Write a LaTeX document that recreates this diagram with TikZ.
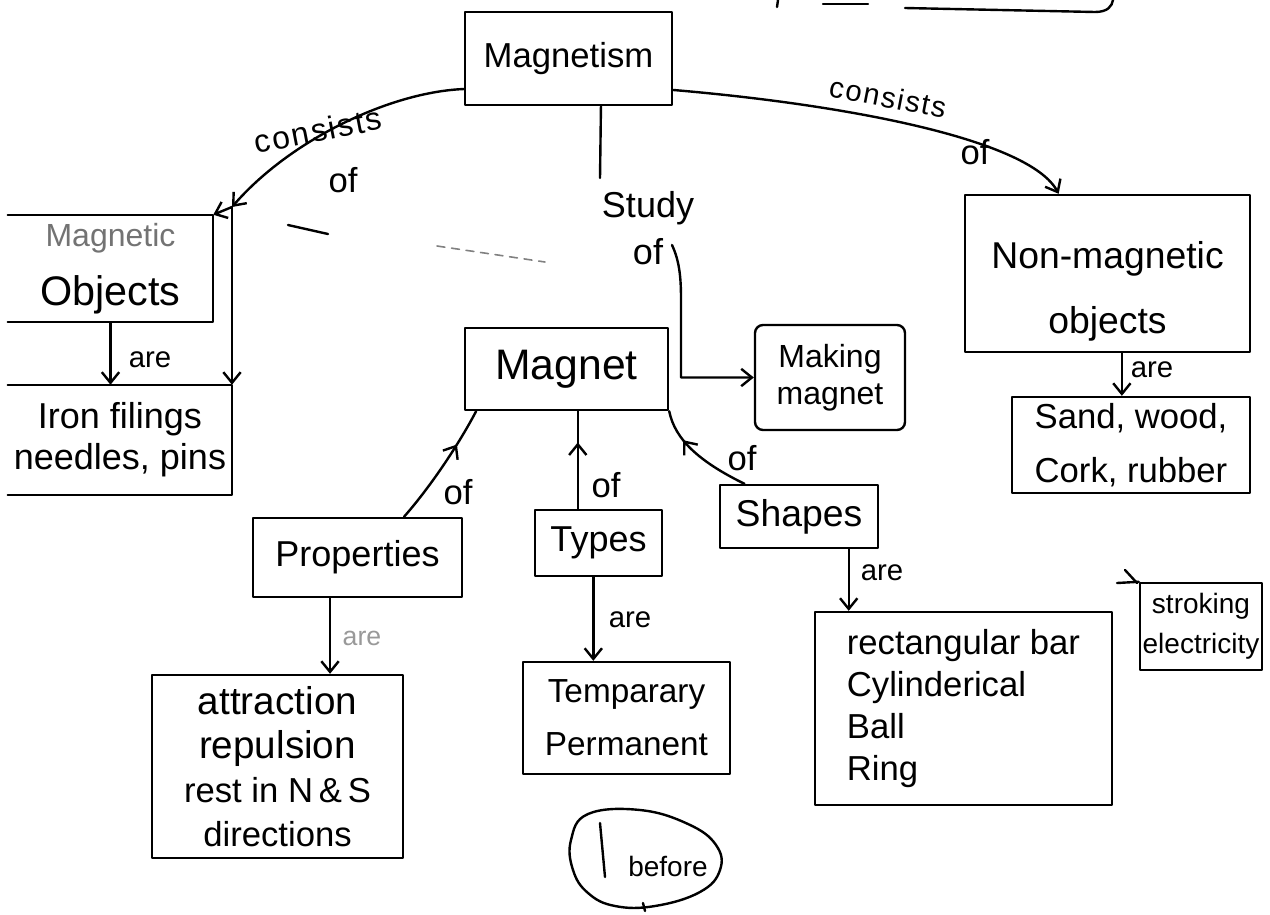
\documentclass[tikz,border=0pt]{standalone}
\usepackage{fontspec}
\setmainfont{Liberation Sans}
\usetikzlibrary{arrows.meta,calc,decorations.markings}
% text block of zero size, moved by #1 (used to lower text inside a box)
\newcommand{\lowered}[2]{\raisebox{#1}[0pt][0pt]{\begin{tabular}{@{}c@{}}#2\end{tabular}}}
\begin{document}
\begin{tikzpicture}[x=0.75pt,y=-0.75pt,
  ink/.style={line width=1.8pt, line cap=round, line join=round},
  bx/.style 2 args={draw, ink, minimum width=#1*0.75pt, minimum height=#2*0.75pt, inner sep=0pt, align=center},
  openbx/.style 2 args={minimum width=#1*0.75pt, minimum height=#2*0.75pt, inner sep=0pt, align=center},
  headend/.style={-{Straight Barb[length=8pt,width=13pt]}},
  midhead/.style={postaction={decorate}, decoration={markings, mark=at position #1 with {\arrow{Straight Barb[length=8pt,width=13pt]}}}},
  lbl/.style={inner sep=0pt},
  txt/.style 2 args={font=\fontsize{#1pt}{#2pt}\selectfont}
]
\useasboundingbox (0,0) rectangle (1270,914);

% ---------- concept boxes ----------
\node[bx={207}{93}, txt={26}{30}] (mag) at (568.5,58.5) {Magnetism};

\node[openbx={205}{107}] (magobj) at (110.5,268.5)
  {{\fontsize{24pt}{28pt}\selectfont\color{black!55}Magnetic}\\[16pt]{\fontsize{31pt}{36pt}\selectfont Objects}};
\draw[ink] (magobj.north west) -- (magobj.north east) -- (magobj.south east) -- (magobj.south west);

\node[openbx={224}{110}, txt={27}{31}] (iron) at (120,440) {Iron filings\\needles, pins};
\draw[ink] (iron.north west) -- (iron.north east) -- (iron.south east) -- (iron.south west);

\node[bx={285}{157}, txt={28}{49}] (nonmag) at (1107.5,273.5) {\lowered{-17pt}{Non-magnetic\\objects}};
\node[bx={238}{96}, txt={26}{40}] (sand) at (1131,445) {Sand, wood,\\Cork, rubber};

\node[bx={203}{82}, txt={32}{38}] (magnet) at (566.5,369) {Magnet};
\node[bx={150}{105}, rounded corners=6pt, txt={24}{28}] (making) at (830,377.5) {Making\\magnet};

\node[bx={209}{79}, txt={27}{32}] (props) at (357.5,557.5) {Properties};
\node[bx={127}{66}, txt={27}{32}] (types) at (598.5,543) {Types};
\node[bx={158}{63}, txt={28}{32}] (shapes) at (799,516.5) {Shapes};

\node[bx={251}{183}, txt={29}{33}] (attr) at (277.5,766.5)
  {attraction\\repulsion\\{\fontsize{26pt}{30pt}\selectfont rest in N\,\&\,S}\\{\fontsize{26pt}{28pt}\selectfont directions}};
\node[bx={207}{112}, txt={25}{40}] (temp) at (626.5,718) {Temparary\\Permanent};
\node[bx={297}{193}, txt={26}{31.5}, align=left] (rect) at (963.5,708.5)
  {rectangular bar\\Cylinderical\\Ball\\Ring};
\node[bx={122}{87}, txt={21}{30}] (strk) at (1201,626.5) {stroking\\electricity};

% ---------- the "before" note ----------
\node[lbl, txt={21}{25}] (bfr) at (668,866) {before};
\draw[ink] plot[smooth cycle, tension=0.7] coordinates
  {(588,814) (640,810) (688,824) (716,845) (720,870) (700,892) (655,906) (615,906) (588,893) (573,870) (571,840)};
\draw[ink] (600,823) -- (605,877);
\draw[ink] (643,903) -- (645,911);

% ---------- link labels ----------
\node[lbl, txt={24}{28}, rotate=11] (cons1) at (318,130) {\addfontfeature{LetterSpace=6}consists};
\node[lbl, txt={26}{30}] (cons1of) at (343,180) {of};
\node[lbl, txt={22}{26}, rotate=-11] (cons2) at (888,97) {\addfontfeature{LetterSpace=6}consists};
\node[lbl, txt={26}{30}] (cons2of) at (975,152) {of};
\node[lbl, txt={27}{35}, align=center] (study) at (648,228) {Study\\of};

\node[lbl, txt={22}{26}] (are1) at (150,360) {are};
\node[lbl, txt={20}{24}, text=black!40] (are2) at (362,638) {are};
\node[lbl, txt={22}{26}] (are3) at (630,620) {are};
\node[lbl, txt={22}{26}] (are4) at (882,573) {are};
\node[lbl, txt={22}{26}] (are5) at (1152,370) {are};

\node[lbl, txt={26}{30}] (of1) at (458,492) {of};
\node[lbl, txt={26}{30}] (of2) at (606,485) {of};
\node[lbl, txt={26}{30}] (of3) at (742,458) {of};

% ---------- connectors ----------
% Magnetism consists of magnetic objects
\coordinate (split) at (232,207);
\draw[ink, headend] ($(mag.south west)!0.18!(mag.north west)$) .. controls (390,92) and (290,140) .. (split);
\draw[ink, headend] (split) -- (magobj.north east);
\draw[ink, headend] (split) -- (split |- iron.north);
\draw[ink, headend] (magobj.south) -- (magobj.south |- iron.north);

% Magnetism consists of non-magnetic objects
\coordinate (nmin) at ($(nonmag.north west)!0.33!(nonmag.north east)$);
\draw[ink, headend] ($(mag.south east)!0.17!(mag.north east)$) .. controls (850,105) and (1030,140) .. (nmin);
\coordinate (nmout) at ($(nonmag.south west)!0.55!(nonmag.south east)$);
\draw[ink, headend] (nmout) -- (nmout |- sand.north);

% Magnetism study of ... making magnet
\coordinate (s0) at ($(mag.south west)!0.655!(mag.south east)$);
\coordinate (s1) at (600,178);
\draw[ink] (s0) -- (s1);
\coordinate (s2) at (672,245);
\coordinate (s3) at (681,300);
\draw[ink, headend] (s2) .. controls (680,262) and (681,280) .. (s3) -- (s3 |- making.west) -- (making.west);

% properties / types / shapes of magnet
\coordinate (pa) at ($(props.north west)!0.72!(props.north east)$);
\draw[ink, midhead=0.7] (pa) .. controls (432,485) and (460,442) .. ($(magnet.south west)!0.06!(magnet.south east)$);
\coordinate (ta) at ($(types.north west)!0.34!(types.north east)$);
\draw[ink, midhead=0.68] (ta) -- (ta |- magnet.south);
\draw[ink, midhead=0.7] ($(shapes.north west)!0.16!(shapes.north east)$) .. controls (700,462) and (675,440) .. (magnet.south east);

% ... are ...
\coordinate (pb) at ($(props.south west)!0.37!(props.south east)$);
\draw[ink, headend] (pb) -- (pb |- attr.north);
\coordinate (tb) at ($(types.south west)!0.46!(types.south east)$);
\draw[ink, headend] (tb) -- (tb |- temp.north);
\coordinate (sb) at ($(shapes.south west)!0.81!(shapes.south east)$);
\draw[ink, headend] (sb) -- (sb |- rect.north);

% ---------- loose strokes ----------
\draw[ink] (288,225) -- (328,234);
\draw[ink, black!50, line width=1.2pt, dash pattern=on 6pt off 5pt] (437,246) -- (545,262);
\draw[ink] (905,8) -- (1095,12) .. controls (1108,12) and (1112,6) .. (1113,0);
\draw[ink] (823,4) -- (868,4);
\draw[ink] (778,0) -- (777,7);
\draw[ink] (1117,583) -- (strk.north west);
\draw[ink] (1125,570) -- (1137,583);
\end{tikzpicture}
\end{document}
